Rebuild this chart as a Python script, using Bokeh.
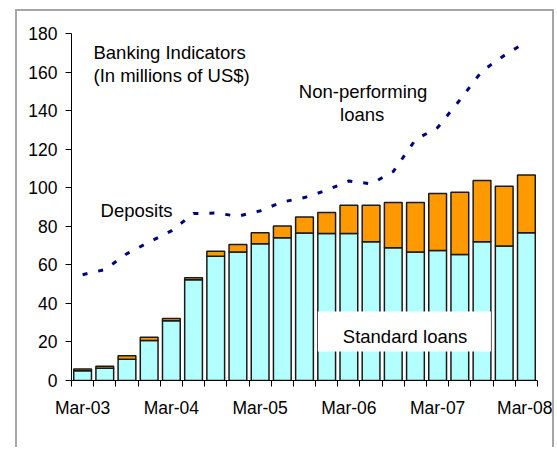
from bokeh.plotting import figure
from bokeh.models import ColumnDataSource, Range1d, FixedTicker, Label, Spacer, BoxAnnotation
from bokeh.layouts import column, row
from bokeh.embed import file_html
from bokeh.resources import INLINE

quarters = ["Mar-03", "Jun-03", "Sep-03", "Dec-03",
            "Mar-04", "Jun-04", "Sep-04", "Dec-04",
            "Mar-05", "Jun-05", "Sep-05", "Dec-05",
            "Mar-06", "Jun-06", "Sep-06", "Dec-06",
            "Mar-07", "Jun-07", "Sep-07", "Dec-07",
            "Mar-08"]
standard_loans = [5.0, 6.3, 11.0, 20.8, 31.0, 52.2, 64.4, 66.7, 71.0, 74.1, 76.5,
                  76.2, 76.2, 72.0, 68.9, 66.7, 67.5, 65.3, 72.0, 69.8, 76.7]
nonperforming_loans = [1.0, 1.1, 1.8, 1.7, 1.2, 1.1, 2.6, 3.8, 5.7, 6.1, 8.3,
                       10.9, 14.7, 18.9, 23.4, 25.6, 29.5, 32.4, 31.7, 31.0, 29.9]
deposits = [54.9, 57.5, 65.8, 71.8, 77.6, 86.6, 86.9, 85.2, 88.0, 92.6, 94.9,
            98.7, 103.5, 102.0, 108.4, 124.9, 131.2, 145.5, 160.5, 168.6, 175.7]
y_ticks = [0, 20, 40, 60, 80, 100, 120, 140, 160, 180]

FONT = "Liberation Sans"

xs = [i + 0.5 for i in range(len(quarters))]
src = ColumnDataSource(dict(x=xs, q=quarters, std=standard_loans,
                            npl=nonperforming_loans, dep=deposits))

p = figure(width=539, height=438, output_backend="svg", toolbar_location=None,
           x_range=Range1d(0, len(quarters)), y_range=Range1d(0, 180),
           min_border_left=54, min_border_right=19, min_border_top=22,
           min_border_bottom=69)
p.styles = {"border-left": "2px solid #a6a6a6", "border-top": "2px solid #a6a6a6",
            "border-right": "2px solid #a6a6a6"}
p.outline_line_color = None
p.xgrid.visible = False
p.ygrid.visible = False
p.background_fill_color = "white"
p.border_fill_color = "white"

p.vbar_stack(["std", "npl"], x="x", width=0.8, source=src,
             fill_color=["#b3ffff", "#ff9900"], line_color="#1a1a1a", line_width=1.5)
p.line("x", "dep", source=src, line_color="#000080", line_width=3,
       line_dash="5 11")

# axes
ya = p.yaxis[0]
ya.ticker = FixedTicker(ticks=y_ticks, minor_ticks=[])
ya.major_tick_out = 6
ya.major_tick_in = 0
ya.minor_tick_out = 0
ya.major_label_standoff = 8
ya.major_label_text_font = FONT
ya.major_label_text_font_size = "17.5px"
ya.major_label_text_color = "black"
ya.axis_line_color = "black"
ya.major_tick_line_color = "black"

label_pos = xs[::4]
xa = p.xaxis[0]
xa.ticker = FixedTicker(ticks=label_pos, minor_ticks=list(range(len(quarters) + 1)))
xa.major_label_overrides = {x: quarters[i * 4] for i, x in enumerate(label_pos)}
xa.major_tick_out = 0
xa.major_tick_in = 0
xa.minor_tick_out = 6
xa.minor_tick_in = 0
xa.minor_tick_line_color = "black"
xa.major_label_standoff = 11
xa.major_label_text_font = FONT
xa.major_label_text_font_size = "17.5px"
xa.major_label_text_color = "black"
xa.axis_line_color = "black"

# annotations
def lab(x, y, t, align="left", baseline="alphabetic", **kw):
    l = Label(x=x, y=y, text=t, text_font=FONT, text_font_size="18.5px",
              text_color="black", text_align=align, text_baseline=baseline, **kw)
    p.add_layout(l)

lab(0.99, 170.2, "Banking Indicators")
lab(0.99, 158.4, "(In millions of US$)")
lab(1.31, 88.3, "Deposits")
lab(13.14, 149.8, "Non-performing", align="center")
lab(13.1, 138.0, "loans", align="center")
p.add_layout(BoxAnnotation(left=11.1, right=18.9, bottom=15.1, top=35.8,
                           fill_color="white", fill_alpha=1.0, line_color=None))
lab(15.03, 22.9, "Standard loans", align="center")

layout = column(Spacer(height=9, width=10), row(Spacer(width=15, height=10), p))
open("out.html", "w").write(file_html(layout, INLINE))
